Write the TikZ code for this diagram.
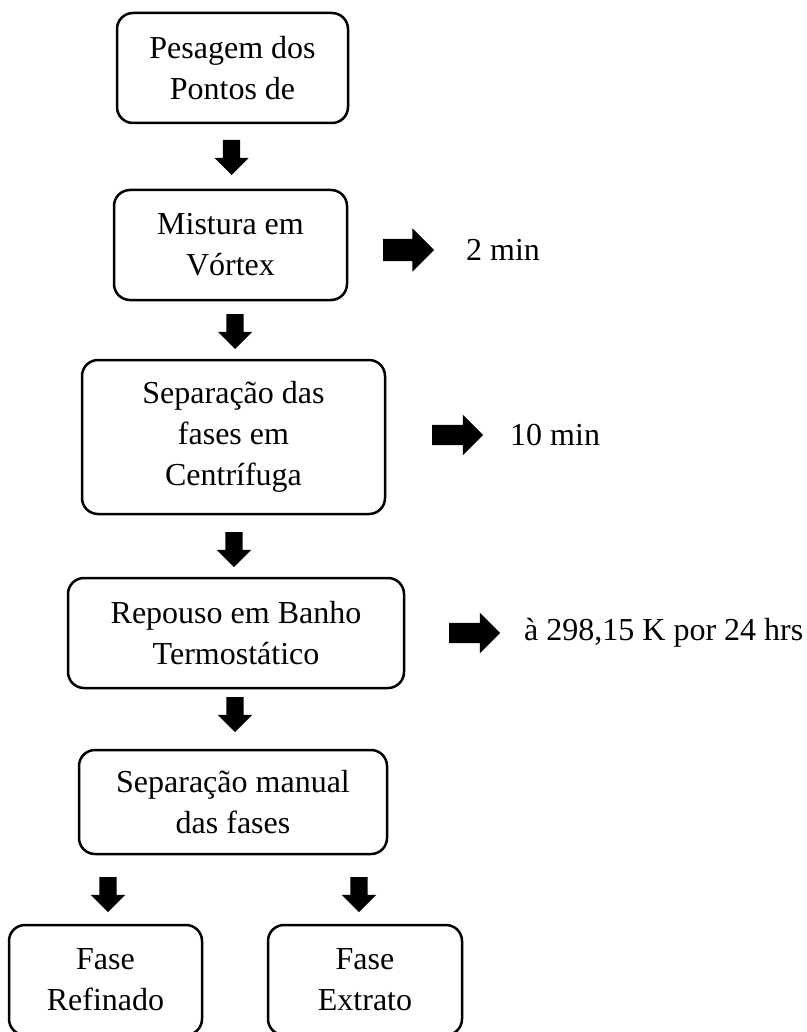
\documentclass[tikz,border=0pt]{standalone}
\usepackage{fontspec}
\setmainfont{Liberation Serif}
\usetikzlibrary{positioning,shapes.arrows}

\begin{document}
\begin{tikzpicture}[x=1pt, y=-1pt,
  procbox/.style={rectangle,draw,line width=2.5pt,rounded corners=16pt,inner sep=0pt,outer sep=0pt,align=center,font=\fontsize{32}{41}\selectfont},
  note/.style={inner sep=0pt,anchor=west,font=\fontsize{32}{41}\selectfont},
  downarrow/.style={single arrow,fill=black,inner sep=8.5pt,outer sep=0pt,minimum height=35pt,single arrow head extend=8.5pt,shape border rotate=270},
  sidearrow/.style={single arrow,fill=black,inner sep=10pt,outer sep=0pt,minimum height=51pt,single arrow head extend=10pt},]
\useasboundingbox (0,0) rectangle (806,1032);

\node[procbox, minimum width=231pt, minimum height=110pt] (pesagem) at (232.5,68) {Pesagem dos\\Pontos de};
\node[downarrow, below=17pt of pesagem, anchor=tail, xshift=-1pt] (a1) {};
%
\node[procbox, minimum width=233pt, minimum height=110pt] (mistura) [below=15pt of a1.tip, xshift=-1pt] {Mistura em\\V\'ortex};
\node[downarrow, below=14pt of mistura, anchor=tail, xshift=4.5pt] (a2) {};
%
\node[procbox, minimum width=303pt, minimum height=154pt] (centrif) [below=11pt of a2.tip, xshift=-1.5pt] {Separa\c{c}\~ao das\\fases em\\Centr\'ifuga};
\node[downarrow, below=18pt of centrif, anchor=tail, xshift=0.5pt] (a3) {};
%
\node[procbox, minimum width=336pt, minimum height=110pt] (repouso) [below=11pt of a3.tip, xshift=2pt] {Repouso em Banho\\Termost\'atico};
\node[downarrow, below=9pt of repouso, anchor=tail, xshift=-1pt] (a4) {};
%
\node[procbox, minimum width=308pt, minimum height=104pt] (manual) [below=18pt of a4.tip, xshift=-2pt] {Separa\c{c}\~ao manual\\das fases};
\node[downarrow, below=23pt of manual, anchor=tail, xshift=-125pt] (a5) {};
\node[downarrow, below=23pt of manual, anchor=tail, xshift=126pt] (a6) {};
%
\node[procbox, minimum width=193pt, minimum height=110pt] (refinado) [below=13pt of a5.tip, xshift=-2.5pt] {Fase\\Refinado};
\node[procbox, minimum width=194pt, minimum height=110pt] (extrato) [right=66pt of refinado] {Fase\\Extrato};

% tempos de cada etapa
\node[sidearrow, right=36pt of mistura, anchor=tail, yshift=-5pt, inner sep=11pt, single arrow head extend=10.5pt] (s1) {};
\node[sidearrow, right=47pt of centrif, anchor=tail, yshift=2pt] (s2) {};
\node[sidearrow, right=45pt of repouso, anchor=tail] (s3) {};

\node[note] (tmix)  [right=32pt of s1.tip] {2 min};
\node[note] (tcen)  [right=27pt of s2.tip] {10 min};
\node[note] (trep)  [right=24pt of s3.tip] {\`a 298,15 K por 24 hrs};

\end{tikzpicture}
\end{document}
